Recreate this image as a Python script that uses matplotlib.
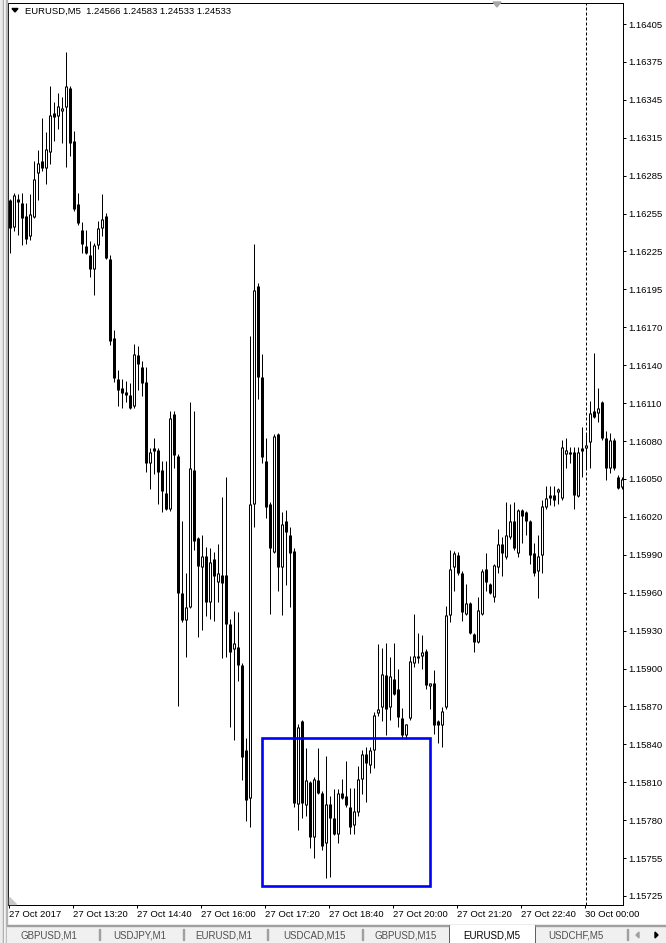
import matplotlib
matplotlib.use("Agg")
import matplotlib.pyplot as plt
import numpy as np
from matplotlib.patches import Rectangle, Polygon
from matplotlib.transforms import Affine2D

# chart header
title = "EURUSD,M5  1.24566 1.24583 1.24533 1.24533"

# 5 minute bars
opens = [1.16268, 1.16247, 1.16269, 1.16266, 1.16256, 1.16240, 1.16255, 1.16289, 1.16299, 1.16293,
         1.16306, 1.16336, 1.16334, 1.16338, 1.16341, 1.16356, 1.16314, 1.16265, 1.16245, 1.16232,
         1.16225, 1.16214, 1.16233, 1.16246, 1.16256, 1.16222, 1.16160, 1.16128, 1.16121, 1.16118,
         1.16116, 1.16107, 1.16147, 1.16138, 1.16126, 1.16063, 1.16074, 1.16073, 1.16057, 1.16039,
         1.16027, 1.16101, 1.16068, 1.15961, 1.15940, 1.15950, 1.16057, 1.16004, 1.15981, 1.15990,
         1.15954, 1.15988, 1.15970, 1.15975, 1.15975, 1.15937, 1.15917, 1.15919, 1.15905, 1.15838,
         1.15801, 1.16031, 1.16201, 1.16130, 1.16064, 1.16031, 1.15993, 1.16085, 1.15981, 1.16017,
         1.16006, 1.15994, 1.15796, 1.15861, 1.15795, 1.15813, 1.15770, 1.15815, 1.15805, 1.15766,
         1.15796, 1.15785, 1.15773, 1.15805, 1.15802, 1.15794, 1.15780, 1.15790, 1.15816, 1.15835,
         1.15827, 1.15838, 1.15867, 1.15872, 1.15897, 1.15872, 1.15894, 1.15886, 1.15863, 1.15850,
         1.15863, 1.15906, 1.15910, 1.15912, 1.15916, 1.15888, 1.15891, 1.15861, 1.15858, 1.15872,
         1.15944, 1.15981, 1.15991, 1.15977, 1.15945, 1.15953, 1.15929, 1.15923, 1.15945, 1.15980,
         1.15968, 1.15958, 1.15981, 1.15999, 1.15989, 1.16005, 1.16017, 1.15992, 1.16026, 1.16024,
         1.16017, 1.15992, 1.15978, 1.15991, 1.16028, 1.16038, 1.16038, 1.16040, 1.16035, 1.16070,
         1.16071, 1.16071, 1.16037, 1.16074, 1.16074, 1.16079, 1.16103, 1.16102, 1.16110, 1.16082,
         1.16059, 1.16081, 1.16052, 1.16044]
highs = [1.16269, 1.16274, 1.16273, 1.16274, 1.16266, 1.16273, 1.16299, 1.16307, 1.16332, 1.16321,
         1.16357, 1.16345, 1.16352, 1.16349, 1.16384, 1.16357, 1.16322, 1.16274, 1.16251, 1.16245,
         1.16236, 1.16235, 1.16252, 1.16273, 1.16258, 1.16225, 1.16167, 1.16135, 1.16128, 1.16127,
         1.16125, 1.16156, 1.16154, 1.16142, 1.16138, 1.16074, 1.16082, 1.16074, 1.16064, 1.16064,
         1.16103, 1.16103, 1.16070, 1.16017, 1.15977, 1.16110, 1.16103, 1.16005, 1.16006, 1.15997,
         1.15996, 1.15993, 1.15999, 1.16036, 1.16052, 1.15941, 1.15947, 1.15946, 1.15906, 1.15848,
         1.16162, 1.16234, 1.16203, 1.16148, 1.16082, 1.16032, 1.16085, 1.16086, 1.16024, 1.16026,
         1.16013, 1.15996, 1.15859, 1.15862, 1.15840, 1.15814, 1.15817, 1.15840, 1.15806, 1.15834,
         1.15802, 1.15808, 1.15808, 1.15816, 1.15830, 1.15809, 1.15809, 1.15826, 1.15838, 1.15841,
         1.15841, 1.15868, 1.15921, 1.15918, 1.15922, 1.15911, 1.15922, 1.15902, 1.15871, 1.15859,
         1.15912, 1.15945, 1.15930, 1.15928, 1.15917, 1.15891, 1.15901, 1.15862, 1.15872, 1.15951,
         1.15995, 1.15994, 1.15993, 1.15978, 1.15968, 1.15954, 1.15930, 1.15958, 1.15980, 1.15992,
         1.15969, 1.15984, 1.16011, 1.16005, 1.16032, 1.16031, 1.16032, 1.16027, 1.16027, 1.16025,
         1.16018, 1.16000, 1.16006, 1.16034, 1.16045, 1.16045, 1.16045, 1.16043, 1.16081, 1.16082,
         1.16075, 1.16075, 1.16075, 1.16091, 1.16086, 1.16111, 1.16149, 1.16121, 1.16111, 1.16088,
         1.16086, 1.16082, 1.16053, 1.16052]
lows = [1.16227, 1.16244, 1.16241, 1.16233, 1.16234, 1.16237, 1.16254, 1.16268, 1.16291, 1.16281,
        1.16296, 1.16314, 1.16324, 1.16313, 1.16294, 1.16303, 1.16260, 1.16249, 1.16227, 1.16226,
        1.16208, 1.16194, 1.16230, 1.16240, 1.16222, 1.16155, 1.16126, 1.16107, 1.16106, 1.16110,
        1.16105, 1.16106, 1.16120, 1.16115, 1.16056, 1.16042, 1.16054, 1.16031, 1.16024, 1.16026,
        1.16025, 1.16059, 1.15873, 1.15938, 1.15911, 1.15949, 1.15995, 1.15927, 1.15932, 1.15943,
        1.15941, 1.15939, 1.15954, 1.15910, 1.15911, 1.15856, 1.15846, 1.15892, 1.15815, 1.15783,
        1.15778, 1.16013, 1.16113, 1.16063, 1.16020, 1.15945, 1.15992, 1.15963, 1.15944, 1.15967,
        1.15950, 1.15794, 1.15776, 1.15785, 1.15787, 1.15762, 1.15754, 1.15804, 1.15760, 1.15738,
        1.15739, 1.15772, 1.15766, 1.15800, 1.15794, 1.15773, 1.15773, 1.15787, 1.15804, 1.15798,
        1.15820, 1.15824, 1.15865, 1.15861, 1.15850, 1.15862, 1.15881, 1.15856, 1.15848, 1.15847,
        1.15862, 1.15903, 1.15906, 1.15902, 1.15886, 1.15870, 1.15851, 1.15844, 1.15841, 1.15870,
        1.15938, 1.15963, 1.15975, 1.15939, 1.15944, 1.15929, 1.15915, 1.15922, 1.15944, 1.15963,
        1.15960, 1.15954, 1.15977, 1.15974, 1.15988, 1.16003, 1.15995, 1.15989, 1.16000, 1.16006,
        1.15984, 1.15974, 1.15957, 1.15977, 1.16027, 1.16030, 1.16029, 1.16031, 1.16034, 1.16059,
        1.16063, 1.16027, 1.16036, 1.16052, 1.16059, 1.16059, 1.16098, 1.16095, 1.16081, 1.16049,
        1.16055, 1.16057, 1.16042, 1.16042]
closes = [1.16246, 1.16272, 1.16267, 1.16254, 1.16238, 1.16257, 1.16285, 1.16297, 1.16293, 1.16308,
          1.16335, 1.16333, 1.16342, 1.16340, 1.16357, 1.16313, 1.16261, 1.16250, 1.16234, 1.16227,
          1.16214, 1.16233, 1.16246, 1.16253, 1.16223, 1.16158, 1.16129, 1.16120, 1.16117, 1.16116,
          1.16106, 1.16148, 1.16140, 1.16125, 1.16063, 1.16071, 1.16072, 1.16056, 1.16041, 1.16027,
          1.16098, 1.16069, 1.15961, 1.15940, 1.15950, 1.16059, 1.16002, 1.15982, 1.15990, 1.15954,
          1.15985, 1.15974, 1.15977, 1.15969, 1.15937, 1.15915, 1.15922, 1.15905, 1.15833, 1.15799,
          1.16031, 1.16198, 1.16130, 1.16067, 1.16028, 1.15996, 1.16084, 1.15981, 1.16015, 1.16009,
          1.15992, 1.15797, 1.15856, 1.15797, 1.15815, 1.15770, 1.15816, 1.15805, 1.15763, 1.15796,
          1.15785, 1.15773, 1.15805, 1.15801, 1.15795, 1.15778, 1.15791, 1.15816, 1.15835, 1.15828,
          1.15838, 1.15866, 1.15870, 1.15898, 1.15870, 1.15896, 1.15882, 1.15864, 1.15850, 1.15859,
          1.15908, 1.15912, 1.15912, 1.15915, 1.15889, 1.15891, 1.15858, 1.15858, 1.15869, 1.15944,
          1.15980, 1.15992, 1.15977, 1.15946, 1.15953, 1.15930, 1.15923, 1.15948, 1.15978, 1.15970,
          1.15961, 1.15983, 1.15999, 1.15992, 1.16006, 1.16017, 1.15996, 1.16026, 1.16021, 1.16017,
          1.15991, 1.15977, 1.15990, 1.16029, 1.16035, 1.16035, 1.16034, 1.16042, 1.16075, 1.16073,
          1.16070, 1.16038, 1.16071, 1.16072, 1.16077, 1.16102, 1.16099, 1.16106, 1.16082, 1.16059,
          1.16081, 1.16059, 1.16043, 1.16050]

price_labels = ["1.16405", "1.16375", "1.16345", "1.16315", "1.16285", "1.16255", "1.16225",
                "1.16195", "1.16170", "1.16140", "1.16110", "1.16080", "1.16050", "1.16020",
                "1.15990", "1.15960", "1.15930", "1.15900", "1.15870", "1.15840", "1.15810",
                "1.15780", "1.15755", "1.15725"]
time_labels = ["27 Oct 2017", "27 Oct 13:20", "27 Oct 14:40", "27 Oct 16:00", "27 Oct 17:20",
               "27 Oct 18:40", "27 Oct 20:00", "27 Oct 21:20", "27 Oct 22:40", "30 Oct 00:00"]
bars_per_label = 16
day_break_bar = 144          # 30 Oct 00:00

# blue rectangle object (bar index / price)
box_bar_from, box_bar_to = 63.0, 105.0
box_price_low, box_price_high = 1.15732, 1.15848

tab_names = ["GBPUSD,M1", "USDJPY,M1", "EURUSD,M1", "USDCAD,M15", "GBPUSD,M15", "EURUSD,M5", "USDCHF,M5"]
active_tab = "EURUSD,M5"

FONT = "Liberation Sans"
W, H = 666, 943
fig = plt.figure(figsize=(W / 100, H / 100), dpi=100)
# pixel coords, origin top left
pix = Affine2D().scale(1 / W, -1 / H).translate(0, 1) + fig.transFigure

left, right, top, bottom = 8, 623, 3, 905
ax = fig.add_axes([left / W, 1 - bottom / H, (right - left) / W, (bottom - top) / H])

# pixel -> price scale of the chart window
def price_at(py):
    return 1.16405 - (py - 25) * 0.0068 / 870

one_px = 0.0068 / 870
PX = 72 / 100   # one pixel in points

n = len(opens)
o = np.array(opens); hi = np.array(highs); lo = np.array(lows); c = np.array(closes)
x = np.arange(n)
up = c >= o
body_lo = np.minimum(o, c)
body_hi = np.maximum(np.maximum(o, c), body_lo + one_px)

ax.vlines(x, lo, hi, color="black", lw=PX, zorder=2)
ax.vlines(x, body_lo, body_hi, color="black", lw=3 * PX, capstyle="butt", zorder=3)
inner = up & (body_hi - body_lo > 2 * one_px)
ax.vlines(x[inner], body_lo[inner] + one_px, body_hi[inner] - one_px, color="white",
          lw=PX, capstyle="butt", zorder=4)

ax.axvline(day_break_bar, color="black", lw=PX, linestyle=(0, (3, 2)), zorder=1)

ax.add_patch(Rectangle((box_bar_from, box_price_low), box_bar_to - box_bar_from,
                       box_price_high - box_price_low, fill=False, edgecolor="#0000ff",
                       lw=1.9, zorder=5))

# bar i sits at pixel 9.5 + 4 i
ax.set_xlim((left - 9.5) / 4, (right - 9.5) / 4)
ax.set_ylim(price_at(bottom), price_at(top))

ax.yaxis.tick_right()
ax.set_yticks(np.linspace(price_at(24), price_at(896), len(price_labels)))
ax.set_yticklabels(price_labels, fontfamily=FONT, fontsize=6.8)
ax.tick_params(axis="y", length=2.2, width=PX, pad=1.4, direction="out")

ax.set_xticks(np.arange(len(time_labels)) * bars_per_label - 0.2)
ax.set_xticklabels(time_labels, fontfamily=FONT, fontsize=6.8, ha="left")
ax.tick_params(axis="x", length=2.5, width=PX, pad=0.8, direction="out")

for s in ax.spines.values():
    s.set_linewidth(PX)

# header
fig.add_artist(Polygon([(12, 8.5), (18, 8.5), (15, 12)], closed=True, color="black", transform=pix))
fig.text(25, 11, title, transform=pix, fontfamily=FONT, fontsize=6.8, va="center", ha="left")
fig.add_artist(Polygon([(493, 2), (501, 2), (497, 7)], closed=True, color="#a8a8a8", transform=pix))
fig.add_artist(Polygon([(9, 897), (9, 904), (16, 904)], closed=True, color="#c8c8c8", transform=pix))

# window border on the left
fig.add_artist(Rectangle((0, 0), 3, H, color="#ececec", transform=pix))
fig.add_artist(Rectangle((3, 0), 1, H, color="#a0a0a0", transform=pix))
fig.add_artist(Rectangle((4, 0), 2, H, color="#f4f4f4", transform=pix))
fig.add_artist(Rectangle((6, 0), 1, H, color="#b4b4b4", transform=pix))

# tab bar
fig.add_artist(Rectangle((7, 925), W - 7, H - 925, color="#f0f0f0", transform=pix))
fig.add_artist(Rectangle((7, 925), W - 7, 1, color="#a0a0a0", transform=pix))
tab_centers = [49, 140, 224, 314, 406, 492, 576]
tab_seps = [99, 183, 267, 362, 627]
fig.add_artist(Rectangle((449, 925), 86, H - 925, facecolor="white", edgecolor="#606060",
                         lw=PX, transform=pix))
fig.add_artist(Rectangle((450, 924.5), 84, 2, color="white", transform=pix))
for sx in tab_seps:
    fig.add_artist(Rectangle((sx, 929), 1, 11, color="#a0a0a0", transform=pix))
for name, cx in zip(tab_names, tab_centers):
    fig.text(cx, 935, name, transform=pix, fontfamily=FONT, fontsize=7, ha="center", va="center",
             color="black" if name == active_tab else "#505050")
fig.add_artist(Polygon([(639, 932), (639, 938), (636, 935)], closed=True, color="#a0a0a0", transform=pix))
fig.add_artist(Polygon([(655, 932), (655, 938), (658, 935)], closed=True, color="black", transform=pix))

fig.savefig("out.png", dpi=100)
